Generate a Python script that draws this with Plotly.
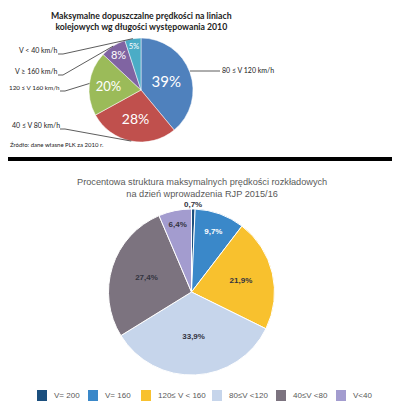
import math
import plotly.graph_objects as go

# ---------------- data ----------------
top_labels = ["80 ≤ V 120 km/h", "40 ≤ V 80 km/h", "120 ≤ V 160 km/h", "V ≥ 160 km/h", "V < 40 km/h"]
top_values = [39, 28, 20, 8, 5]
top_colors = ["#4F81BD", "#C0504D", "#9BBB59", "#8064A2", "#4BACC6"]

bot_labels = ["V= 200", "V= 160", "120≤ V < 160", "80≤V <120", "40≤V <80", "V<40"]
bot_values = [0.7, 9.7, 21.9, 33.9, 27.4, 6.4]
bot_colors = ["#1B4F7E", "#3A88C9", "#F8C12E", "#C6D5EB", "#7C737F", "#A39CCF"]

# ---------------- styles / layout ----------------
top_text_sizes = [15, 14, 13, 12, 10]
bot_text_colors = ["#333340", "#FFFFFF", "#333340", "#333340", "#333340", "#333340"]
legend_symbol_x = [37, 88, 141, 212, 276, 336]   # px, left edge of each legend square
legend_y = 395                                   # px, legend row centre

# the page body adds an 8px margin; lay out in window pixels and shift back
OFF = 8
W, H = 400 - OFF, 415 - OFF
TOPFONT = "Lato, Open Sans, sans-serif"
BOTFONT = "Liberation Sans, Arial, sans-serif"


def px(x):
    return (x - OFF) / W


def py(y):
    return 1 - (y - OFF) / H


# top pie geometry (window pixels)
tcx, tcy, tr = 141, 90, 52
# bottom pie geometry (window pixels)
bcx, bcy, br = 191.5, 292, 83

fig = go.Figure()

fig.add_trace(go.Pie(
    labels=top_labels, values=top_values, sort=False, direction="clockwise", rotation=0,
    marker=dict(colors=top_colors, line=dict(color="#FFFFFF", width=0.5)),
    texttemplate="%{percent:.0%}", textposition="inside",
    insidetextorientation="horizontal",
    textfont=dict(family=TOPFONT, color="#FFFFFF", size=top_text_sizes),
    domain=dict(x=[px(tcx - tr), px(tcx + tr)], y=[py(tcy + tr), py(tcy - tr)]),
    showlegend=False, hoverinfo="label+percent",
))

# tiny first slice gets its label outside, placed above its mid-angle
bot_templates = ["" if v < 1 else "<b>%{value:.1f}%</b>" for v in bot_values]
fig.add_trace(go.Pie(
    labels=bot_labels, values=bot_values, sort=False, direction="clockwise", rotation=0,
    marker=dict(colors=bot_colors, line=dict(color="#FFFFFF", width=1)),
    texttemplate=bot_templates, textposition="inside",
    insidetextorientation="horizontal",
    textfont=dict(family=BOTFONT, color=bot_text_colors, size=8),
    domain=dict(x=[px(bcx - br), px(bcx + br)], y=[py(bcy + br), py(bcy - br)]),
    showlegend=False, hoverinfo="label+value",
))

shapes = []
annotations = []

# outside label(s) for tiny slices of the bottom pie
btotal = sum(bot_values)
cum = 0
for v in bot_values:
    mid = (cum + v / 2) / btotal * 2 * math.pi
    cum += v
    if v < 1:
        lx = bcx + (br + 5) * math.sin(mid)
        ly = bcy - (br + 5) * math.cos(mid)
        annotations.append(dict(x=px(lx), y=py(ly), xref="paper", yref="paper", showarrow=False,
                                text="<b>" + f"{v:.1f}".replace(".", ",") + "%</b>",
                                xanchor="center", yanchor="middle",
                                font=dict(family=BOTFONT, size=8, color="#333340")))

# leader lines and labels for the top pie, anchored at slice mid-angles
label_pos = {  # text end x (px), centre y (px), side, font size
    "80 ≤ V 120 km/h": (220, 71, "left", 7),
    "40 ≤ V 80 km/h": (62, 125, "right", 7),
    "120 ≤ V 160 km/h": (62, 87, "right", 6.3),
    "V ≥ 160 km/h": (60, 71, "right", 7),
    "V < 40 km/h": (60, 50, "right", 7),
}
total = sum(top_values)
cum = 0
for lab, v in zip(top_labels, top_values):
    mid = (cum + v / 2) / total * 2 * math.pi
    cum += v
    ex = tcx + tr * math.sin(mid)
    ey = tcy - tr * math.cos(mid)
    tx, ty, side, fs = label_pos[lab]
    if side == "left":
        path = f"M {px(ex)} {py(ty)} L {px(tx)} {py(ty)}"
        annotations.append(dict(x=px(tx), y=py(ty - 1), xref="paper", yref="paper",
                                text=lab, showarrow=False, xanchor="left", yanchor="middle",
                                font=dict(family=TOPFONT, size=fs, color="#222222")))
    else:
        path = f"M {px(tx - 2)} {py(ty + 4)} L {px(tx + 3)} {py(ty + 4)} L {px(ex)} {py(ey)}"
        annotations.append(dict(x=px(tx), y=py(ty), xref="paper", yref="paper",
                                text=lab, showarrow=False, xanchor="right", yanchor="middle",
                                font=dict(family=TOPFONT, size=fs, color="#222222")))
    shapes.append(dict(type="path", path=path, xref="paper", yref="paper",
                       line=dict(color="#333333", width=0.8)))

# separator line
shapes.append(dict(type="line", xref="paper", yref="paper", x0=0, x1=1,
                   y0=py(159), y1=py(159), line=dict(color="#000000", width=4)))

# legend for the bottom pie (built from labels and colours)
for lab, col, lx in zip(bot_labels, bot_colors, legend_symbol_x):
    shapes.append(dict(type="rect", xref="paper", yref="paper",
                       x0=px(lx), x1=px(lx + 10),
                       y0=py(legend_y + 6), y1=py(legend_y - 5),
                       fillcolor=col, line=dict(width=0)))
    annotations.append(dict(x=px(lx + 15), y=py(legend_y), xref="paper", yref="paper",
                            text=lab, showarrow=False, xanchor="left", yanchor="middle",
                            font=dict(family=BOTFONT, size=8, color="#595959")))

# titles and source
annotations += [
    dict(x=px(141), y=py(OFF), xref="paper", yref="paper", showarrow=False,
         xanchor="center", yanchor="top",
         text="<b>Maksymalne dopuszczalne prędkości na liniach<br>kolejowych wg długości występowania 2010</b>",
         font=dict(family=TOPFONT, size=8.7, color="#222222"), align="center"),
    dict(x=px(8), y=py(145), xref="paper", yref="paper", showarrow=False,
         xanchor="left", yanchor="middle",
         text="Źródło: dane własne PLK za 2010 r.",
         font=dict(family=TOPFONT, size=6, color="#222222")),
    dict(x=px(202), y=py(188), xref="paper", yref="paper", showarrow=False,
         xanchor="center", yanchor="middle",
         text="Procentowa struktura maksymalnych prędkości rozkładowych<br>na dzień wprowadzenia RJP 2015/16",
         font=dict(family=BOTFONT, size=9.2, color="#595959"), align="center"),
]

fig.update_layout(
    width=W, height=H, margin=dict(l=0, r=0, t=0, b=0),
    paper_bgcolor="#FFFFFF", plot_bgcolor="#FFFFFF",
    separators=", ",
    shapes=shapes, annotations=annotations,
    showlegend=False,
)

fig.write_html("out.html")
